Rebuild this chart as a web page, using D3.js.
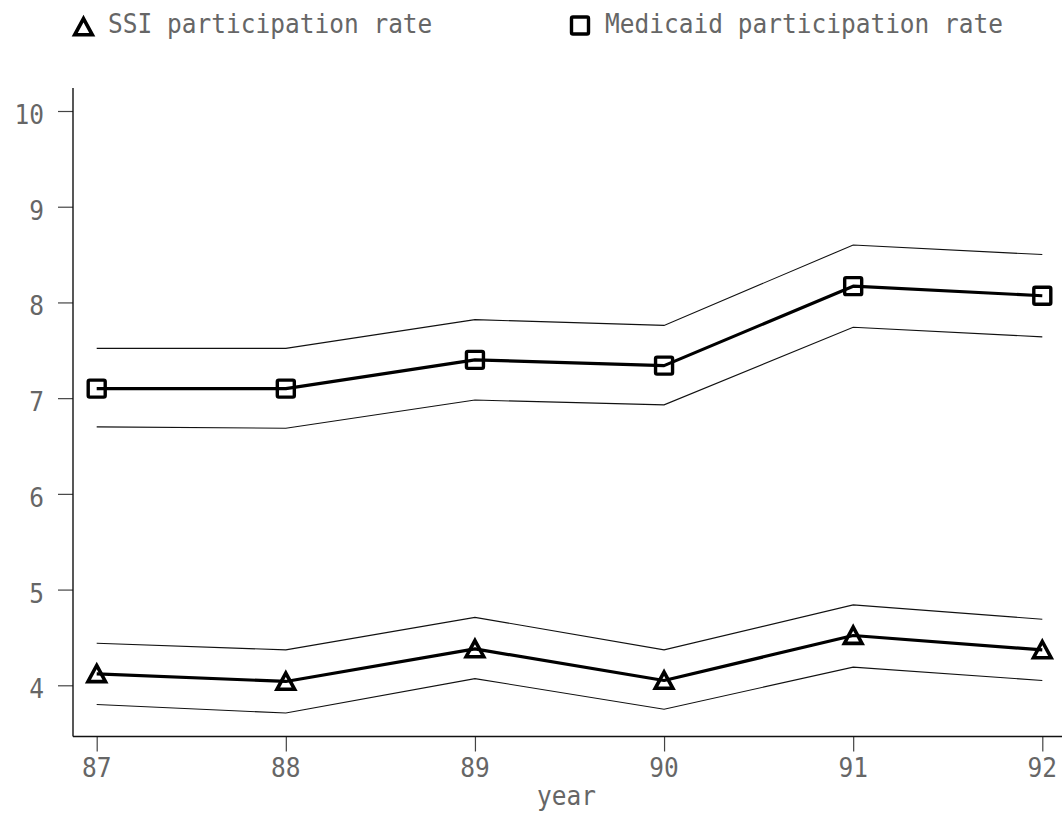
<!DOCTYPE html>
<html>
<head>
<meta charset="utf-8">
<script src="https://cdn.jsdelivr.net/npm/d3@7"></script>
<style>
  html, body { margin: 0; padding: 0; background: #fff; }
  svg text { font-family: "DejaVu Sans Mono", monospace; fill: #666; }
</style>
</head>
<body>
<svg id="chart" width="1062" height="814"></svg>
<script>
// Participation rates by year, with upper and lower confidence bands
const years = [87, 88, 89, 90, 91, 92];

const ssiRate  = [4.12, 4.04, 4.38, 4.05, 4.52, 4.37];
const ssiUpper = [4.44, 4.37, 4.71, 4.37, 4.84, 4.69];
const ssiLower = [3.80, 3.71, 4.07, 3.75, 4.19, 4.05];

const medRate  = [7.10, 7.10, 7.40, 7.34, 8.17, 8.07];
const medUpper = [7.52, 7.52, 7.82, 7.76, 8.60, 8.50];
const medLower = [6.70, 6.685, 6.98, 6.93, 7.74, 7.64];

const yTicks = [4, 5, 6, 7, 8, 9, 10];
const legendLabels = ["SSI participation rate", "Medicaid participation rate"];
const xTitle = "year";

const svg = d3.select("#chart");

const x = d3.scaleLinear().domain([87, 92]).range([96.7, 1042.3]);
const y = d3.scaleLinear().domain([4, 10]).range([685.3, 111]);

const axisLeftX = 73, axisBottomY = 736.5;
const FONT = 24.5, STRETCH = 1.12;

// text helper: monospace glyphs stretched slightly taller
function label(parent, tx, ty, str, anchor) {
  return parent.append("text")
    .attr("transform", `translate(${tx},${ty}) scale(1,${STRETCH})`)
    .attr("text-anchor", anchor || "start")
    .attr("font-size", FONT)
    .text(str);
}

// y axis
const yAxis = svg.append("g").attr("transform", `translate(${axisLeftX},0)`)
  .call(d3.axisLeft(y).tickValues(yTicks).tickSize(15).tickFormat(""));
yAxis.select(".domain").remove();
yAxis.append("line").attr("x1", 0).attr("x2", 0).attr("y1", 88).attr("y2", axisBottomY)
  .attr("stroke", "#111").attr("stroke-width", 1.4);
yAxis.selectAll(".tick line").attr("stroke", "#444").attr("stroke-width", 1.2);
yTicks.forEach(t => label(svg, 44, y(t) + 13, d3.format("d")(t), "end"));

// x axis
const xAxis = svg.append("g").attr("transform", `translate(0,${axisBottomY})`)
  .call(d3.axisBottom(x).tickValues(years).tickSize(15).tickFormat(""));
xAxis.select(".domain").remove();
xAxis.append("line").attr("x1", axisLeftX).attr("x2", 1062).attr("y1", 0).attr("y2", 0)
  .attr("stroke", "#111").attr("stroke-width", 1.4);
xAxis.selectAll(".tick line").attr("stroke", "#444").attr("stroke-width", 1.2);
years.forEach(t => label(svg, x(t), 777, d3.format("d")(t), "middle"));

label(svg, 566.5, 805, xTitle, "middle");

const line = d3.line().x((d, i) => x(years[i])).y(d => y(d));

// confidence bands (thin)
[ssiUpper, ssiLower, medUpper, medLower].forEach(arr => {
  svg.append("path").datum(arr).attr("d", line)
    .attr("fill", "none").attr("stroke", "#111").attr("stroke-width", 1.1);
});

// main series (thick)
[ssiRate, medRate].forEach(arr => {
  svg.append("path").datum(arr).attr("d", line)
    .attr("fill", "none").attr("stroke", "#000").attr("stroke-width", 3.2)
    .attr("stroke-linejoin", "round");
});

// markers
function drawTri(g, cx, cy) {
  g.append("path").attr("d", "M0,-8.4L8.8,7.8L-8.8,7.8Z").attr("transform", `translate(${cx},${cy})`)
    .attr("fill", "none").attr("stroke", "#000").attr("stroke-width", 3.6).attr("stroke-linejoin", "miter")
    .attr("stroke-miterlimit", 4);
}
function drawSq(g, cx, cy) {
  g.append("rect").attr("x", cx - 8.5).attr("y", cy - 8.5).attr("width", 17).attr("height", 17)
    .attr("rx", 1.5).attr("fill", "none").attr("stroke", "#000").attr("stroke-width", 3.4);
}
const markers = svg.append("g");
ssiRate.forEach((v, i) => drawTri(markers, x(years[i]), y(v)));
medRate.forEach((v, i) => drawSq(markers, x(years[i]), y(v)));

// legend
drawTri(svg, 83.5, 27);
label(svg, 108, 33, legendLabels[0]);
drawSq(svg, 580, 25.5);
label(svg, 605, 33, legendLabels[1]);
</script>
</body>
</html>
